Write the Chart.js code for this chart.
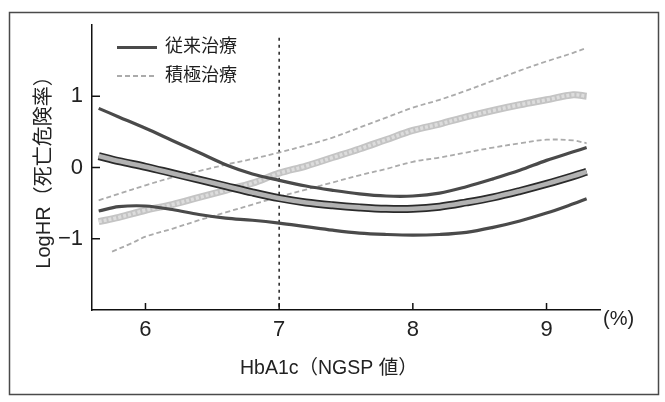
<!DOCTYPE html>
<html><head><meta charset="utf-8">
<script src="https://cdn.jsdelivr.net/npm/chart.js@4"></script>
<style>html,body{margin:0;padding:0;background:#fff}#wrap{width:665px;height:402px;position:relative}</style>
</head><body><div id="wrap"><canvas id="c" width="665" height="402"></canvas></div>
<script>
// ---- data ----
const hba1c      = [5.65, 5.8, 6.0, 6.2, 6.4, 6.6, 6.8, 7.0, 7.2, 7.4, 7.6, 7.8, 8.0, 8.2, 8.4, 8.6, 8.8, 9.0, 9.2, 9.3];
const convMid    = [0.16, 0.09, 0.01, -0.08, -0.17, -0.26, -0.35, -0.43, -0.49, -0.53, -0.56, -0.58, -0.58, -0.55, -0.49, -0.42, -0.33, -0.23, -0.12, -0.06];
const convUpper  = [0.83, 0.71, 0.55, 0.38, 0.21, 0.04, -0.09, -0.18, -0.26, -0.32, -0.37, -0.40, -0.40, -0.36, -0.27, -0.16, -0.04, 0.10, 0.22, 0.28];
const convLower  = [-0.61, -0.55, -0.54, -0.59, -0.66, -0.71, -0.74, -0.78, -0.83, -0.88, -0.92, -0.94, -0.95, -0.94, -0.91, -0.84, -0.75, -0.64, -0.51, -0.44];
const intMid     = [-0.76, -0.70, -0.60, -0.52, -0.42, -0.32, -0.22, -0.08, 0.02, 0.14, 0.26, 0.39, 0.52, 0.61, 0.71, 0.80, 0.88, 0.95, 1.02, 1.00];
const intUpper   = [-0.46, -0.37, -0.25, -0.14, -0.05, 0.04, 0.12, 0.21, 0.31, 0.42, 0.56, 0.70, 0.84, 0.95, 1.08, 1.22, 1.36, 1.49, 1.61, 1.68];
const hba1cIntLower = [5.75, 5.9, 6.0, 6.2, 6.4, 6.6, 6.8, 7.0, 7.2, 7.4, 7.6, 7.8, 8.0, 8.2, 8.4, 8.6, 8.8, 9.0, 9.2, 9.3];
const intLower   = [-1.18, -1.06, -0.97, -0.86, -0.74, -0.63, -0.52, -0.41, -0.31, -0.21, -0.11, -0.02, 0.08, 0.14, 0.21, 0.28, 0.34, 0.39, 0.38, 0.34];
const refLineX   = [7, 7];
const refLineY   = [1.82, -2];
const xTicks     = [6, 7, 8, 9];
const yTicks     = [-1, 0, 1];
const yTickLabels = ['−1', '0', '1'];
const seriesNames = ['従来治療', '積極治療'];
const xTitle = 'HbA1c（NGSP 値）';
const yTitle = 'LogHR（死亡危険率）';
const unitLabel = '(%)';

const FONT = "'Liberation Sans','Noto Sans CJK JP',sans-serif";
const pts = (xs, ys) => xs.map((x, i) => ({x, y: ys[i]}));

const S = {
  convLine: {borderColor: '#4a4a4a', borderWidth: 3.2},
  convBandOuter: {borderColor: '#2a2a2a', borderWidth: 8},
  convBandInner: {borderColor: '#b2b2b2', borderWidth: 4.6},
  intLine: {borderColor: '#ababab', borderWidth: 1.8, borderDash: [5, 3]},
  intBandOuter: {borderColor: '#c4c4c4', borderWidth: 7},
  intBandInner: {borderColor: '#dddddd', borderWidth: 3.5, borderDash: [3, 2]},
};

const ds = (label, data, style, order, extra) => Object.assign({label, data, order, pointRadius: 0, fill: false, tension: 0.35, borderCapStyle: 'butt'}, style, extra || {});

const decor = {
  id: 'decor',
  beforeDraw(chart) {
    const c = chart.ctx; c.save(); c.fillStyle = '#fff'; c.fillRect(0, 0, chart.width, chart.height); c.restore();
  },
  afterDraw(chart) {
    const c = chart.ctx, a = chart.chartArea, x = chart.scales.x, y = chart.scales.y;
    c.save();
    // outer frame
    c.strokeStyle = '#4a4a4a'; c.lineWidth = 1.5; c.setLineDash([]);
    c.strokeRect(9.5, 12.5, 649, 382);
    // inward tick marks
    c.strokeStyle = '#111'; c.lineWidth = 1.5;
    x.ticks.forEach(t => { const px = x.getPixelForValue(t.value); c.beginPath(); c.moveTo(px, a.bottom); c.lineTo(px, a.bottom - 7); c.stroke(); });
    y.ticks.forEach(t => { const py = y.getPixelForValue(t.value); c.beginPath(); c.moveTo(a.left, py); c.lineTo(a.left + 8, py); c.stroke(); });
    // unit label
    c.fillStyle = '#222'; c.textBaseline = 'middle'; c.textAlign = 'left';
    c.font = '20px ' + FONT; c.fillText(unitLabel, a.right + 3, a.bottom + 9);
    // x title
    c.font = '19.5px ' + FONT; c.fillText(xTitle, 240, 369);
    // legend
    const lx = a.left + 25, lw = 40, ly1 = 47.5, ly2 = 76;
    c.lineCap = 'butt';
    c.strokeStyle = S.convLine.borderColor; c.lineWidth = 3.2;
    c.beginPath(); c.moveTo(lx, ly1); c.lineTo(lx + lw, ly1); c.stroke();
    c.strokeStyle = S.intLine.borderColor; c.lineWidth = 2; c.setLineDash(S.intLine.borderDash);
    c.beginPath(); c.moveTo(lx, ly2); c.lineTo(lx + lw, ly2); c.stroke();
    c.setLineDash([]);
    c.fillStyle = '#1e1e1e'; c.font = '18px ' + FONT;
    c.fillText(seriesNames[0], lx + lw + 8, ly1);
    c.fillText(seriesNames[1], lx + lw + 8, ly2);
    c.restore();
  }
};

new Chart(document.getElementById('c'), {
  type: 'line',
  data: {
    datasets: [
      ds('HbA1c 7%', pts(refLineX, refLineY), {borderColor: '#222', borderWidth: 1.5, borderDash: [3, 4]}, 9, {tension: 0}),
      ds(seriesNames[1] + ' 上限', pts(hba1c, intUpper), S.intLine, 8),
      ds(seriesNames[1] + ' 下限', pts(hba1cIntLower, intLower), S.intLine, 7),
      ds(seriesNames[1], pts(hba1c, intMid), S.intBandOuter, 6),
      ds(seriesNames[1] + ' ', pts(hba1c, intMid), S.intBandInner, 5),
      ds(seriesNames[0] + ' 上限', pts(hba1c, convUpper), S.convLine, 4),
      ds(seriesNames[0] + ' 下限', pts(hba1c, convLower), S.convLine, 3),
      ds(seriesNames[0], pts(hba1c, convMid), S.convBandOuter, 2),
      ds(seriesNames[0] + ' ', pts(hba1c, convMid), S.convBandInner, 1)
    ]
  },
  options: {
    responsive: false,
    devicePixelRatio: 1,
    animation: false,
    layout: {padding: {top: 25, right: 65, left: 0, bottom: 0}},
    plugins: {legend: {display: false}, tooltip: {enabled: false}},
    scales: {
      x: {
        type: 'linear', min: 5.6, max: 9.4,
        afterBuildTicks: s => { s.ticks = xTicks.map(v => ({value: v})); },
        afterFit: s => { s.height = 92; },
        grid: {display: false, drawTicks: false},
        border: {display: true, color: '#111', width: 1.5},
        ticks: {color: '#222', font: {family: FONT, size: 22}, padding: 7, maxRotation: 0, autoSkip: false, callback: v => String(v)}
      },
      y: {
        type: 'linear', min: -2, max: 2,
        afterBuildTicks: s => { s.ticks = yTicks.map(v => ({value: v})); },
        afterFit: s => { s.width = 92; },
        grid: {display: false, drawTicks: false},
        border: {display: true, color: '#111', width: 1.5},
        ticks: {color: '#222', font: {family: FONT, size: 22}, padding: 9, callback: v => yTickLabels[yTicks.indexOf(v)]},
        title: {display: true, text: yTitle, color: '#222', font: {family: FONT, size: 20}, padding: {top: 32, bottom: 0}}
      }
    }
  },
  plugins: [decor]
});
</script></body></html>
